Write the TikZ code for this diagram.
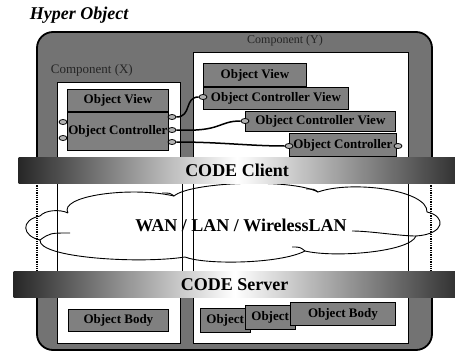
\documentclass[tikz,border=0pt]{standalone}
\usepackage{fontspec}
\setmainfont{Liberation Serif}
\usetikzlibrary{positioning,shapes.geometric}

\begin{document}
\begin{tikzpicture}[x=1pt,y=-1pt,line width=1pt,
  frame/.style={fill=black!55,draw=black,line width=1.8pt,rounded corners=16pt},
  pane/.style={fill=white,draw=black,line width=0.8pt},
  obj/.style={rectangle,fill=black!50,draw=black,line width=0.8pt,inner sep=0pt,
    font=\bfseries\fontsize{13}{13}\selectfont},
  band/.style={rectangle,anchor=north west,left color=black!85,right color=black!80,
    middle color=white,inner sep=0pt,font=\bfseries\fontsize{18}{18}\selectfont},
  port/.style={ellipse,fill=black!30,draw=black,line width=0.8pt,
    minimum width=8pt,minimum height=5pt,inner sep=0pt},
  wire/.style={line width=1.5pt},
  net/.style={line width=0.9pt},
  link/.style={line width=0.9pt},
  dotlink/.style={line width=1.3pt,densely dotted}]

\useasboundingbox (0,0) rectangle (455,356);

\node[anchor=west,font=\bfseries\itshape\fontsize{18}{18}\selectfont] (title) at (26,15) {Hyper Object};

% upper half of the object
\draw[frame] (37,160) -- (37,32) -- (432,32) -- (432,160);
\node[anchor=west,font=\fontsize{13}{13}\selectfont,text=black!85] (compx) at (47,70) {Component (X)};
\node[font=\fontsize{12}{12}\selectfont,text=black!85] (compy) at (285,41) {Component (Y)};
\draw[pane] (57,82) rectangle (180,158);
\draw[pane] (193,52) rectangle (408,158);

\node[obj,anchor=north west,minimum width=101pt,minimum height=22pt] (lview) at (67,89) {Object View};
\node[obj,minimum width=101pt,minimum height=38pt,below=0pt of lview] (lctrl) {Object Controller};

\node[obj,anchor=north west,minimum width=103pt,minimum height=23pt] (rview) at (203,63) {Object View};
\node[obj,anchor=north west,minimum width=145pt,minimum height=22pt] (rcv1) at (203,87) {Object Controller View};
\node[obj,anchor=north west,minimum width=150pt,minimum height=20pt] (rcv2) at (245,111) {Object Controller View};
\node[obj,anchor=north west,minimum width=107pt,minimum height=23pt] (rctrl) at (289,133) {Object Controller};

\node[port] (lp1) at (63,122) {};
\node[port] (lp2) at (63,138) {};
\node[port] (lo1) at (172,117) {};
\node[port] (lo2) at (172,130) {};
\node[port] (lo3) at (172,142) {};
\node[port] (rp1) at (203,97) {};
\node[port] (rp2) at (245,121) {};
\node[port] (rp3) at (289,146) {};
\node[port] (rp4) at (398,146) {};

\draw[wire] (lo1.east) .. controls (192,117) and (184,97) .. (rp1.west);
\draw[wire] (lo2.east) .. controls (222,132) and (218,121) .. (rp2.west);
\draw[wire] (lo3.east) .. controls (220,142) and (250,146) .. (rp3.west);

% network between client and server
\coordinate (ta) at (37,183);  \coordinate (ba) at (37,272);
\coordinate (tb) at (57,183);  \coordinate (bb) at (57,272);
\coordinate (tc) at (182,183); \coordinate (bc) at (182,272);
\coordinate (td) at (193,183); \coordinate (bd) at (193,272);
\coordinate (te) at (408,183); \coordinate (be) at (408,272);
\coordinate (tf) at (431,183); \coordinate (bf) at (431,272);
\draw[dotlink] (ta) -- (ba);
\draw[dotlink] (tf) -- (bf);
\draw[link] (tb) -- (bb);
\draw[link] (tc) -- (bc);
\draw[link] (td) -- (bd);
\draw[link] (te) -- (be);

\draw[net] (68,213) .. controls (58,196) and (130,186) .. (174,196)
  .. controls (190,182) and (290,178) .. (318,192)
  .. controls (352,180) and (428,190) .. (427,212)
  .. controls (446,216) and (446,234) .. (416,236)
  .. controls (410,252) and (335,258) .. (305,251)
  .. controls (280,264) and (205,265) .. (185,257)
  .. controls (140,264) and (38,258) .. (40,240)
  .. controls (22,236) and (20,220) .. (40,216)
  .. controls (45,210) and (60,209) .. (68,213);
\draw[net] (174,196) .. controls (170,193) .. (162,193);
\draw[net] (318,192) .. controls (314,189) .. (306,189);
\draw[net] (416,236) .. controls (400,236) and (370,231) .. (352,231);
\draw[net] (305,251) .. controls (300,247) .. (292,247);
\draw[net] (40,240) .. controls (50,233) .. (70,233);
\node[font=\bfseries\fontsize{18}{18}\selectfont] (wan) at (241,225) {WAN / LAN / WirelessLAN};

% lower half of the object
\draw[frame] (37,296) -- (37,350) -- (432,350) -- (432,296);
\draw[pane] (57,296) rectangle (180,343);
\draw[pane] (193,296) rectangle (408,343);

\node[obj,anchor=north west,minimum width=100pt,minimum height=22pt] (lbody) at (68,309) {Object Body};
\node[obj,anchor=north west,inner xsep=6pt,minimum height=24pt] (rb1) at (200,308) {Object};
\node[obj,anchor=north west,inner xsep=6pt,minimum height=24pt] (rb2) at (245,305) {Object};
\node[obj,anchor=north west,minimum width=105pt,minimum height=23pt] (rb3) at (290,302) {Object Body};

\node[band,minimum width=437pt,minimum height=26pt] (client) at (18,157) {CODE Client};
\node[band,minimum width=442pt,minimum height=26pt] (server) at (13,271) {CODE Server};

\end{tikzpicture}
\end{document}
